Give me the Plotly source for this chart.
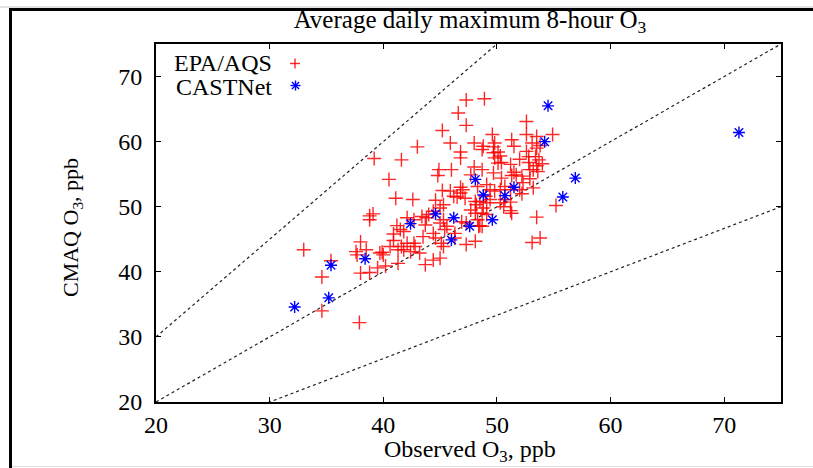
import plotly.graph_objects as go

# ---------------- data ----------------
epa_obs = [39.2, 40.5, 41.1, 38.8, 39.1, 38.8, 41.2, 40.9, 40.9, 33.0, 38.0, 37.6, 37.7, 38.5,
           39.9, 40.0, 39.7, 40.6, 41.3, 35.4, 34.6, 38.0, 38.8, 39.5, 40.2, 41.3, 34.6, 37.9,
           47.3, 46.6, 47.3, 45.2, 43.0, 45.9, 48.0, 46.8, 46.8, 41.6, 44.9, 44.8, 46.0, 48.0,
           47.7, 48.3, 46.8, 47.0, 46.8, 45.2, 45.9, 46.2, 46.5, 47.2, 48.1, 48.2, 42.6, 44.6,
           45.3, 45.0, 47.7, 48.1, 44.0, 43.8, 44.4, 45.3, 45.0, 45.6, 45.4, 46.9, 47.3, 48.4,
           48.3, 42.1, 42.7, 41.5, 41.8, 43.4, 43.7, 43.5, 44.4, 44.6, 45.1, 45.3, 46.3, 46.3,
           47.3, 42.1, 42.7, 42.8, 41.6, 41.8, 43.2, 42.4, 44.4, 45.0, 43.7,
           48.9, 52.6, 49.6, 49.8, 49.7, 48.8, 48.7, 51.3, 51.5, 52.6, 53.1, 53.5, 53.5, 53.8,
           54.9, 52.6, 52.8, 52.0, 49.7, 50.1, 50.3, 49.8, 50.1, 50.4, 53.4, 53.7, 54.0, 53.5,
           52.8, 52.9, 53.2, 53.6, 51.2, 51.5, 51.7, 52.2, 51.3, 50.4, 49.7, 48.7, 52.9, 53.2,
           52.3, 52.0, 50.7, 51.2, 50.3, 49.1, 49.4, 49.8, 49.0, 49.1, 48.5, 49.4, 50.7, 51.2,
           50.3, 50.6, 52.2, 48.8, 48.7, 49.1, 51.2, 51.3, 48.5, 55.2, 53.5, 53.1, 53.8,
           48.1, 48.7]
epa_cmaq = [57.4, 54.2, 51.3, 48.6, 48.9, 48.0, 47.1, 45.8, 44.8, 43.4, 44.6, 43.1, 42.6, 43.4,
            43.0, 42.6, 42.9, 43.9, 43.4, 41.7, 39.2, 39.8, 39.9, 40.6, 40.9, 41.3, 34.0, 32.2,
            66.4, 64.4, 62.5, 61.7, 59.2, 59.8, 59.8, 58.4, 57.5, 57.2, 55.7, 54.8, 55.7, 56.1,
            54.9, 53.1, 53.0, 52.6, 52.1, 52.5, 52.4, 51.6, 51.5, 51.3, 50.8, 50.3, 51.1, 51.0,
            50.3, 49.8, 49.5, 49.0, 48.8, 48.3, 49.3, 48.0, 47.5, 47.0, 46.5, 47.7, 47.5, 47.0,
            48.0, 48.3, 48.0, 46.5, 46.2, 48.5, 47.2, 45.4, 45.9, 45.2, 44.4, 43.9, 45.9, 45.2,
            44.2, 44.4, 44.4, 43.9, 43.9, 43.4, 42.9, 43.1, 41.8, 42.1, 41.1,
            66.6, 63.1, 61.1, 59.8, 59.2, 59.3, 58.8, 60.3, 59.3, 61.1, 59.8, 60.8, 59.0, 59.4,
            61.1, 58.5, 57.7, 57.3, 58.3, 58.4, 57.8, 57.5, 56.7, 56.8, 57.7, 57.2, 56.6, 56.3,
            56.8, 55.7, 55.7, 55.4, 56.5, 55.3, 54.9, 54.7, 54.8, 54.4, 55.2, 55.7, 54.3, 52.9,
            53.7, 52.6, 53.1, 52.6, 52.6, 53.4, 52.6, 52.4, 51.6, 50.6, 50.8, 51.1, 51.1, 50.7,
            50.6, 50.0, 52.0, 49.8, 49.0, 48.8, 49.4, 49.0, 47.1, 50.2, 48.4, 44.5, 45.2,
            44.7, 47.0]

castnet_obs = [32.2, 35.2, 35.4, 38.4, 42.4, 44.6, 46.2, 46.0, 47.6, 48.1, 48.8, 49.6, 50.7,
               51.5, 54.2, 54.5, 55.8, 56.9, 71.3]
castnet_cmaq = [34.6, 36.0, 41.0, 42.0, 47.4, 48.9, 48.3, 44.9, 47.0, 54.2, 51.8, 48.0, 51.7,
                53.0, 60.0, 65.5, 51.5, 54.4, 61.4]

ref_x = [20, 75]
ref_ratios = [1.5, 1.0, 1 / 1.5]

x_ticks = [20, 30, 40, 50, 60, 70]
y_ticks = [20, 30, 40, 50, 60, 70]

title_text = "Average daily maximum 8-hour O<sub>3</sub>"
x_title = "Observed O<sub>3</sub>, ppb"
y_title = "CMAQ O<sub>3</sub>, ppb"
legend_names = ["EPA/AQS", "CASTNet"]

# ---------------- layout geometry (pixels) ----------------
W, H = 813, 468
L, R, T, B = 156, 32, 44, 66
PW, PH = W - L - R, H - T - B
FONT = "Liberation Serif, Times New Roman, serif"


def px(xp):
    return (xp - L) / PW


def py(yp):
    return (H - B - yp) / PH


fig = go.Figure()

for r in ref_ratios:
    fig.add_trace(go.Scatter(
        x=ref_x, y=[v * r for v in ref_x], mode="lines",
        line=dict(color="#222222", width=1.2, dash="3px,3px"),
        showlegend=False, hoverinfo="skip"))

fig.add_trace(go.Scatter(
    x=epa_obs, y=epa_cmaq, mode="markers", name=legend_names[0],
    marker=dict(symbol="cross-thin-open", size=10, color="rgba(255,0,0,0.85)",
                line=dict(color="rgba(255,0,0,0.85)", width=1.4)),
    showlegend=False))

fig.add_trace(go.Scatter(
    x=castnet_obs, y=castnet_cmaq, mode="markers", name=legend_names[1],
    marker=dict(symbol="asterisk-open", size=10, color="rgb(0,0,255)",
                line=dict(color="rgb(0,0,255)", width=1.4)),
    showlegend=False))

shapes = []
# outer frame of the figure
shapes.append(dict(type="line", xref="paper", yref="paper", x0=px(0), x1=px(W), y0=py(7), y1=py(7),
                   line=dict(color="#c8c8c8", width=1)))
shapes.append(dict(type="line", xref="paper", yref="paper", x0=px(9), x1=px(W), y0=py(9.5), y1=py(9.5),
                   line=dict(color="black", width=3)))
shapes.append(dict(type="line", xref="paper", yref="paper", x0=px(10.5), x1=px(10.5), y0=py(8), y1=py(H),
                   line=dict(color="black", width=3)))
shapes.append(dict(type="line", xref="paper", yref="paper", x0=px(12), x1=px(W), y0=py(466.5), y1=py(466.5),
                   line=dict(color="#dcdcdc", width=1)))

# legend keys (drawn like gnuplot: symbol to the right of the label)
cx, cy, hs = 295, 63.5, 5
red = "rgba(255,0,0,0.85)"
shapes.append(dict(type="line", xref="paper", yref="paper", x0=px(cx - hs), x1=px(cx + hs), y0=py(cy), y1=py(cy),
                   line=dict(color=red, width=1.4)))
shapes.append(dict(type="line", xref="paper", yref="paper", x0=px(cx), x1=px(cx), y0=py(cy - hs), y1=py(cy + hs),
                   line=dict(color=red, width=1.4)))
cx, cy = 295.5, 85.5
blue = "rgb(0,0,255)"
d = 3.6
for (ax, ay, bx, by) in [(cx - hs, cy, cx + hs, cy), (cx, cy - hs, cx, cy + hs),
                         (cx - d, cy - d, cx + d, cy + d), (cx - d, cy + d, cx + d, cy - d)]:
    shapes.append(dict(type="line", xref="paper", yref="paper", x0=px(ax), x1=px(bx), y0=py(ay), y1=py(by),
                       line=dict(color=blue, width=1.4)))

annotations = [
    dict(text=legend_names[0], xref="paper", yref="paper", x=px(274), y=py(63), xanchor="right",
         yanchor="middle", showarrow=False, font=dict(family=FONT, size=24, color="black")),
    dict(text=legend_names[1], xref="paper", yref="paper", x=px(274), y=py(87), xanchor="right",
         yanchor="middle", showarrow=False, font=dict(family=FONT, size=24, color="black")),
    dict(text=x_title, xref="paper", yref="paper", x=px(470), y=py(451), xanchor="center",
         yanchor="middle", showarrow=False, font=dict(family=FONT, size=24, color="black")),
    dict(text=y_title, xref="paper", yref="paper", x=px(72), y=py(228), xanchor="center",
         yanchor="middle", showarrow=False, textangle=-90, font=dict(family=FONT, size=22, color="black")),
]

axis_common = dict(showline=True, linecolor="black", linewidth=2, mirror="ticks",
                   ticks="inside", ticklen=5, tickwidth=1, tickcolor="black",
                   showgrid=False, zeroline=False,
                   tickfont=dict(family=FONT, size=24, color="black"))

fig.update_layout(
    width=W, height=H,
    margin=dict(l=L, r=R, t=T, b=B, pad=0),
    paper_bgcolor="white", plot_bgcolor="white",
    title=dict(text=title_text, x=px(470), xref="paper", xanchor="center",
               y=1 - 19 / H, yref="container", yanchor="middle",
               font=dict(family=FONT, size=25, color="black")),
    xaxis=dict(range=[20, 75], tickvals=x_ticks, ticklabelstandoff=0, **axis_common),
    yaxis=dict(range=[20, 75], tickvals=y_ticks, ticklabelstandoff=7, **axis_common),
    shapes=shapes, annotations=annotations, showlegend=False,
)

fig.write_html("out.html")
